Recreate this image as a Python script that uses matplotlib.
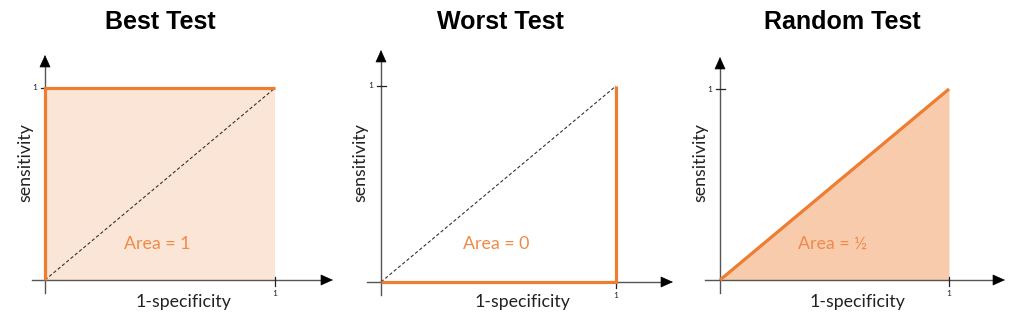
import matplotlib
matplotlib.use("Agg")
import matplotlib.pyplot as plt

# ROC curves: false positive rate (1-specificity) vs true positive rate (sensitivity)
titles = ["Best Test", "Worst Test", "Random Test"]
fpr_best = [0, 0, 1]
tpr_best = [0, 1, 1]
fpr_worst = [0, 1, 1]
tpr_worst = [0, 0, 1]
fpr_random = [0, 1]
tpr_random = [0, 1]
chance_x = [0, 1]
chance_y = [0, 1]
area_labels = ["Area = 1", "Area = 0", "Area = \u00bd"]
tick_labels = ["1", "1"]

ORANGE = "#ED7D31"
AREA_TEXT = "#F08A48"
FILL_LIGHT = "#FBE5D6"
FILL_MID = "#F8CBAD"
AXIS_GREY = "#555555"
BODY_FONT = "Lato"

W, H = 1024, 323
fig = plt.figure(figsize=(W / 100, H / 100), dpi=100)
fig.patch.set_facecolor("white")

# panel pixel frames: (left, right, origin_x, origin_y, unit_x, unit_y, x_axis_start, x_axis_tip, y_axis_start, y_axis_tip)
frames = [
    (0, 340, 45, 280, 275, 88, 32, 333, 293, 55),
    (340, 680, 381, 282, 616, 86, 367, 673, 295, 50),
    (680, 1024, 720, 280, 949, 89, 705, 1005, 293, 57),
]


def make_axes(left, right, ox, oy, ux, uy):
    sx = ux - ox
    sy = oy - uy
    ax = fig.add_axes([left / W, 0, (right - left) / W, 1])
    ax.set_xlim((left - ox) / sx, (right - ox) / sx)
    ax.set_ylim((oy - H) / sy, oy / sy)
    ax.axis("off")
    return ax, sx, sy


curves = [(fpr_best, tpr_best), (fpr_worst, tpr_worst), (fpr_random, tpr_random)]
fills = [FILL_LIGHT, None, FILL_MID]
HEAD = 11  # arrow head length in pixels

for i, (left, right, ox, oy, ux, uy, xs, xt, ys, yt) in enumerate(frames):
    ax, sx, sy = make_axes(left, right, ox, oy, ux, uy)
    px = lambda p: (p - ox) / sx
    py = lambda p: (oy - p) / sy

    fx, fy = curves[i]
    if fills[i] is not None:
        ax.fill_between(fx, fy, 0, color=fills[i], lw=0, zorder=1)

    # axis lines in grey, arrow heads in black
    ax.plot([px(xs), px(xt - HEAD + 1)], [0, 0], color=AXIS_GREY, lw=1.0, zorder=2)
    ax.plot([0, 0], [py(ys), py(yt + HEAD - 1)], color=AXIS_GREY, lw=1.0, zorder=2)
    head = dict(arrowstyle="-|>,head_length=0.4,head_width=0.18",
                color="black", lw=0.5, mutation_scale=20,
                shrinkA=0, shrinkB=0)
    ax.annotate("", xy=(px(xt), 0), xytext=(px(xt - HEAD), 0), arrowprops=head, zorder=2)
    ax.annotate("", xy=(0, py(yt)), xytext=(0, py(yt + HEAD)), arrowprops=head, zorder=2)

    # unit ticks
    ax.plot([-4 / sx, 5 / sx], [1, 1], color="#222222", lw=0.9, zorder=2)
    ax.plot([1, 1], [3 / sy, -6 / sy], color="#222222", lw=0.9, zorder=2)
    ax.text(-8 / sx, 1, tick_labels[0], ha="right", va="center",
            fontsize=6, family=BODY_FONT, color="#222222")
    ax.text(1, -10 / sy, tick_labels[1], ha="center", va="top",
            fontsize=6, family=BODY_FONT, color="#222222")

    # chance diagonal
    ax.plot(chance_x, chance_y, color="#333333", lw=0.8,
            linestyle=(0, (3, 2)), zorder=3)

    # ROC curve
    ax.plot(fx, fy, color=ORANGE, lw=2.3, solid_joinstyle="miter",
            solid_capstyle="butt", zorder=4)

    # labels
    ax.text(px(left + 20 + (5 if i == 0 else 0)), py(163), "sensitivity",
            rotation=90, ha="center", va="center", fontsize=12.8,
            family=BODY_FONT, color="#222222")
    ax.text(0.6, py(302), "1-specificity", ha="center", va="center",
            fontsize=12.8, family=BODY_FONT, color="#222222")
    ax.text(0.49, py(244), area_labels[i], ha="center", va="center",
            fontsize=12.8, family=BODY_FONT, color=AREA_TEXT)

    ax.text(px((left + right) / 2 - 10), py(22), titles[i], ha="center",
            va="center", fontsize=18, fontweight="bold",
            family="Liberation Sans", color="black")

fig.savefig("out.png", dpi=100, facecolor="white")
